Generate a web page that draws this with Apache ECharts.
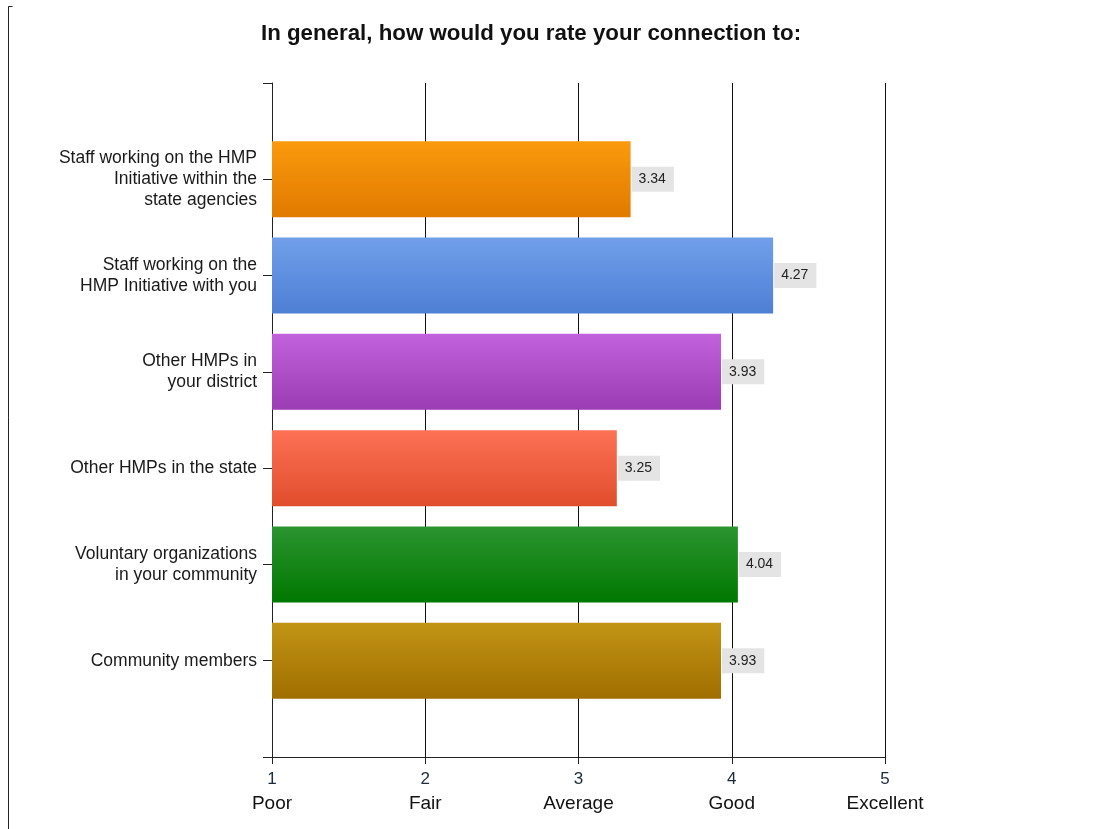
<!DOCTYPE html>
<html>
<head>
<meta charset="utf-8">
<title>Connection ratings</title>
<script src="https://cdn.jsdelivr.net/npm/echarts@6/dist/echarts.min.js"></script>
<style>
  html, body { margin: 0; padding: 0; background: #fff; }
  #chart { width: 1097px; height: 829px; }
</style>
</head>
<body>
<div id="chart"></div>
<script>
// Survey items, top to bottom
const categories = [
  'Staff working on the HMP\nInitiative within the\nstate agencies',
  'Staff working on the\nHMP Initiative with you',
  'Other HMPs in\nyour district',
  'Other HMPs in the state',
  'Voluntary organizations\nin your community',
  'Community members'
];
// Mean rating per item (1–5 scale)
const ratings = [3.34, 4.27, 3.93, 3.25, 4.04, 3.93];
// Scale points and their names
const scaleValues = [1, 2, 3, 4, 5];
const scaleNames = ['Poor', 'Fair', 'Average', 'Good', 'Excellent'];
// Bar fills, top and bottom of each gradient
const barTop = ['#fb9a0c', '#719fea', '#c262dc', '#fd7155', '#2b9430', '#c29415'];
const barBottom = ['#e07a00', '#4d7fd4', '#9c3cb4', '#e04d2c', '#007800', '#a06e00'];

const chart = echarts.init(document.getElementById('chart'), null, { renderer: 'canvas' });

// pad the category axis with blank slots so the axis runs a half-step past the bars
const axisCats = [''].concat(categories, ['']);
const barData = [null].concat(ratings.map((v, i) => ({
  value: v,
  itemStyle: {
    color: new echarts.graphic.LinearGradient(0, 0, 0, 1, [
      { offset: 0, color: barTop[i] },
      { offset: 1, color: barBottom[i] }
    ])
  }
})), [null]);

const FONT = '"Liberation Sans", Arial, sans-serif';

chart.setOption({
  backgroundColor: '#ffffff',
  animation: false,
  title: {
    text: 'In general, how would you rate your connection to:',
    left: 526,
    top: 18,
    textAlign: 'center',
    textStyle: { fontFamily: FONT, fontSize: 22.3, fontWeight: 'bold', color: '#111' }
  },
  graphic: [
    {
      type: 'polyline',
      shape: { points: [[12.5, 6.5], [8.5, 6.5], [8.5, 829]] },
      style: { stroke: '#222', lineWidth: 1, fill: null }
    }
  ],
  grid: { left: 272, right: 212, top: 83, bottom: 72, containLabel: false },
  xAxis: {
    type: 'value',
    min: 1,
    max: 5,
    interval: 1,
    axisLine: { show: true, lineStyle: { color: '#222', width: 1 } },
    axisTick: { show: true, length: 7, lineStyle: { color: '#222' } },
    splitLine: { show: true, lineStyle: { color: '#111', width: 1 } },
    axisLabel: {
      margin: 11,
      formatter: function (v) {
        const i = scaleValues.indexOf(v);
        return '{n|' + v + '}\n{w|' + (i >= 0 ? scaleNames[i] : '') + '}';
      },
      rich: {
        n: { fontFamily: FONT, fontSize: 17, color: '#1c2a3a', lineHeight: 22 },
        w: { fontFamily: FONT, fontSize: 19, color: '#111', lineHeight: 28 }
      }
    }
  },
  yAxis: {
    type: 'category',
    inverse: true,
    boundaryGap: false,
    data: axisCats,
    axisLine: { show: true, lineStyle: { color: '#222', width: 1 } },
    axisTick: { show: true, length: 9, inside: false, lineStyle: { color: '#222' } },
    splitLine: { show: false },
    axisLabel: {
      margin: 15,
      fontFamily: FONT,
      fontSize: 17.5,
      lineHeight: 21,
      color: '#1a1a1a',
      align: 'right'
    }
  },
  series: [
    {
      type: 'bar',
      data: barData,
      barWidth: 76,
      label: {
        show: true,
        position: 'right',
        distance: 1,
        fontFamily: FONT,
        fontSize: 14,
        color: '#222',
        backgroundColor: '#e4e4e4',
        padding: [6, 8, 5, 7],
        formatter: p => p.value.toFixed(2)
      }
    }
  ]
});
</script>
</body>
</html>
